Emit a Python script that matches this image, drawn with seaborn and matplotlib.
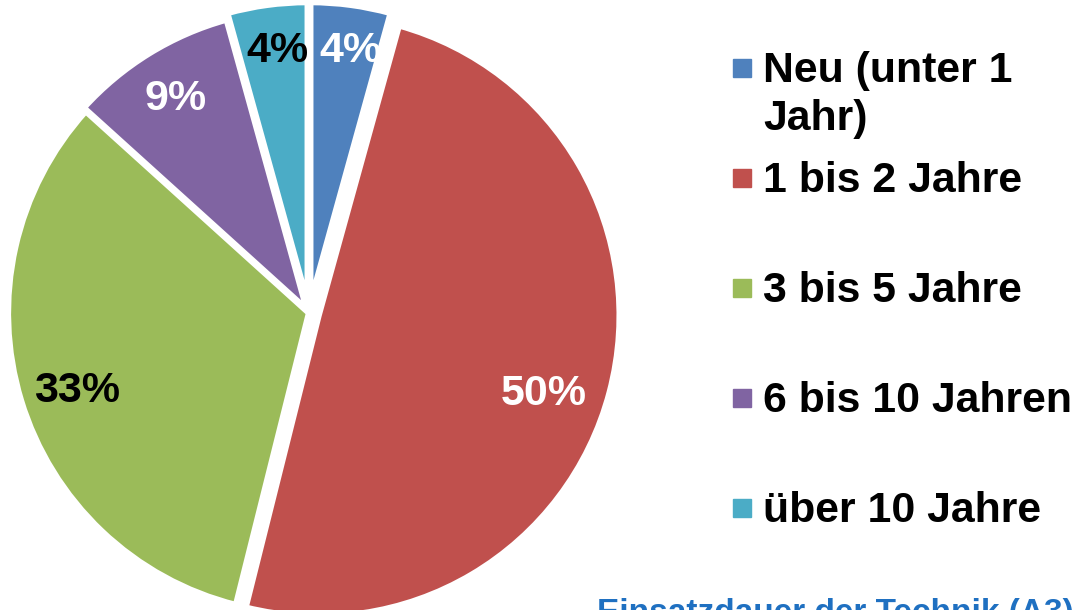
import matplotlib
matplotlib.use("Agg")
import matplotlib.pyplot as plt
import seaborn as sns
from matplotlib.patches import Rectangle

sns.set_theme(style="white")
plt.rcParams['font.family'] = ['Liberation Sans', 'DejaVu Sans']

categories = ["Neu (unter 1\nJahr)", "1 bis 2 Jahre", "3 bis 5 Jahre",
              "6 bis 10 Jahren", "über 10 Jahre"]
# shares; labels round to 4/50/33/9/4
shares = [4.3, 49.6, 32.8, 9.0, 4.3]
colors = ["#4F81BD", "#C0504D", "#9BBB59", "#8064A2", "#4BACC6"]
label_colors = ["white", "white", "black", "white", "black"]
explode = [0.033, 0.033, 0, 0.013, 0.033]

W, H = 1076, 610
fig = plt.figure(figsize=(W / 100, H / 100), dpi=100)

# pie centre and radius in pixels (from top-left)
cx, cy, r = 309, 313, 301
half = 1.1 * r
ax = fig.add_axes([(cx - half) / W, (H - cy - half) / H, 2 * half / W, 2 * half / H])

wedges, texts, autotexts = ax.pie(
    shares, colors=colors, startangle=90, counterclock=False,
    explode=explode, radius=1, autopct=lambda p: f"{p:.0f}%", pctdistance=0.83,
    wedgeprops=dict(edgecolor="white", linewidth=4.5),
    textprops=dict(fontsize=31, fontweight="bold"))

# small pixel nudges so the labels sit where the original puts them
nudges = [(6, -5), (-16, 15), (7, 5), (0, 2), (3, -5)]
for t, c, (dx, dy) in zip(autotexts, label_colors, nudges):
    t.set_color(c)
    x, y = t.get_position()
    t.set_position((x + dx / r, y - dy / r))
ax.set_xlim(-1.1, 1.1)
ax.set_ylim(-1.1, 1.1)
ax.set_aspect("equal")
ax.axis("off")

# legend drawn by hand to follow the uneven spacing
baselines = [82, 192, 302, 412, 522]
for lab, col, yb in zip(categories, colors, baselines):
    fig.patches.append(Rectangle((733 / W, 1 - (yb - 5) / H), 18 / W, 18 / H,
                                 transform=fig.transFigure, color=col))
    for i, line in enumerate(lab.split("\n")):
        fig.text(763 / W, 1 - (yb + 48 * i) / H, line, fontsize=30.8,
                 fontweight="bold", color="black", va="baseline", ha="left")

fig.text(597 / W, 1 - 622 / H, "Einsatzdauer der Technik (A3)", fontsize=24,
         fontweight="bold", color="#1F70C1", va="baseline", ha="left")

fig.savefig("out.png", dpi=100)
